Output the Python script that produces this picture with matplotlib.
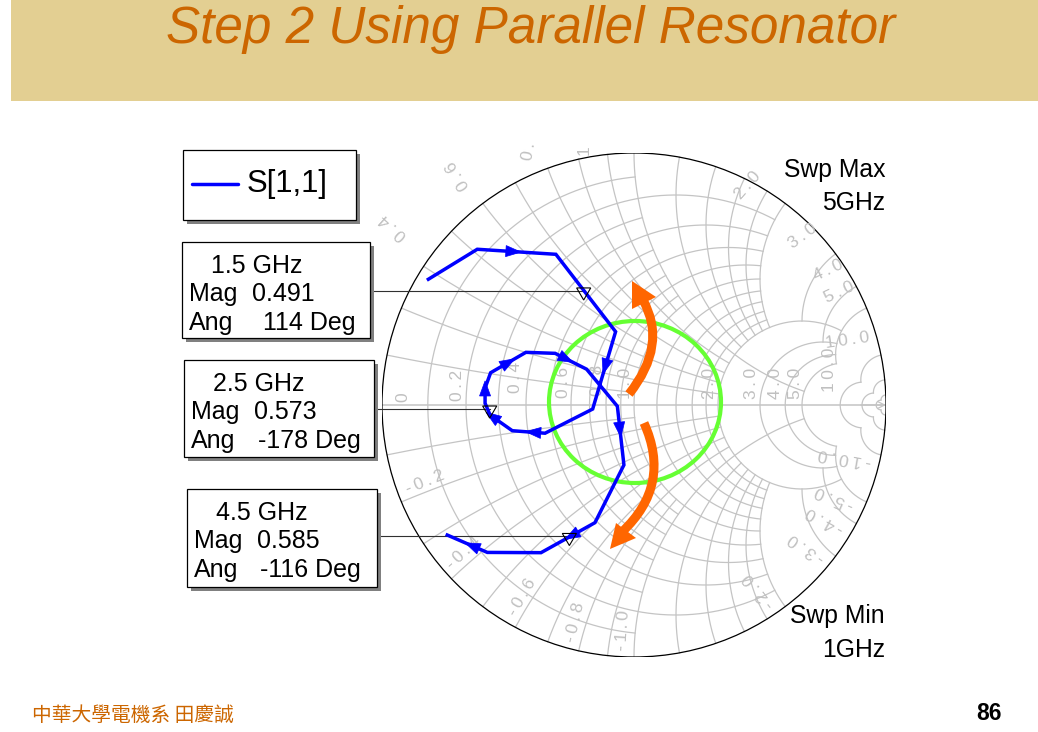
import numpy as np
import matplotlib
matplotlib.use("Agg")
import matplotlib.pyplot as plt
from matplotlib.patches import Rectangle, Polygon, Ellipse, PathPatch, Circle
from matplotlib.path import Path

TITLE = "Step 2 Using Parallel Resonator"
FOOTER = "中華大學電機系 田慶誠"
PAGE = "86"

# S[1,1] trace (reflection coefficient, re / im), 1 GHz to 5 GHz
gamma_re = [-0.816, -0.622, -0.310, -0.073, -0.164, -0.353, -0.483, -0.571, -0.591, -0.591,
            -0.569, -0.429, -0.313, -0.188, -0.066, -0.040, -0.155, -0.369, -0.582, -0.741]
gamma_im = [0.499, 0.618, 0.598, 0.291, -0.016, -0.112, -0.102, -0.040, 0.007, 0.067,
            0.128, 0.209, 0.205, 0.142, -0.005, -0.238, -0.467, -0.586, -0.585, -0.516]
arrow_seg = [1, 3, 5, 6, 8, 10, 12, 14, 16, 18]
arrow_frac = [0.46, 0.45, 0.36, 0.9, 0.98, 0.5, 0.35, 0.4, 0.43, 0.38]

# markers
marker_ghz = ["1.5 GHz", "2.5 GHz", "4.5 GHz"]
marker_mag = [0.491, 0.573, 0.585]
marker_ang = [114, -178, -116]

# Smith grid: resistance circles with reactance limit, reactance arcs with resistance limit
r_vals = [0.1, 0.2, 0.3, 0.4, 0.5, 0.6, 0.7, 0.8, 0.9, 1.0, 1.2, 1.4, 1.6, 1.8, 2, 3, 4, 5, 10, 20, 50]
r_xlim = [1, 2, 1, 2, 1, 2, 1, 2, 1, 2, 2, 2, 2, 2, 5, 5, 5, 5, 10, 20, 50]
x_vals = [0.1, 0.2, 0.3, 0.4, 0.5, 0.6, 0.7, 0.8, 0.9, 1.0, 1.2, 1.4, 1.6, 1.8, 2, 3, 4, 5, 10, 20, 50]
x_rlim = [1, 2, 1, 2, 1, 2, 1, 2, 1, 5, 2, 2, 2, 2, 2, 2, 3, 5, 10, 20, 50]

# grey axis labels: text, x px, y px, rotation
tick_text = ["0", "0.2", "0.4", "0.6", "0.8", "1.0", "2.0", "3.0", "4.0", "5.0", "10.0",
             "0.", "1", "0.6", "0.4", "2.0", "3.0", "4.0", "5.0", "10.0",
             "-0.2", "-0.4", "-0.6", "-0.8", "-1.0", "-2.0", "-3.0", "-4.0", "-5.0", "-10.0"]
tick_x = [403, 458, 516, 563, 597, 625, 710, 752, 775, 795, 830,
          529, 584, 458, 393, 748, 803, 828, 839, 847,
          425, 464, 522, 575, 623, 759, 807, 825, 835, 845]
tick_y = [397, 385, 377, 382, 380, 383, 383, 383, 383, 383, 370,
          151, 150, 175, 227, 185, 236, 270, 292, 340,
          482, 553, 597, 622, 630, 591, 548, 520, 498, 458]
tick_rot = [90, 90, 90, 90, 90, 90, 90, 90, 90, 90, 90,
            80, 90, 122, 138, 49, 37, 25, 25, 8,
            22, 43, 60, 77, 86, 128, 145, 151, 156, 170]

GRID = "#c4c4c4"
TICK = "#c0c0c0"
BLUE = "#0000ff"
ORANGE = "#ff6600"

fig = plt.figure(figsize=(10.38, 7.32), dpi=100)
page = fig.add_axes([0, 0, 1, 1])
page.set_xlim(0, 1038)
page.set_ylim(732, 0)
page.axis("off")

page.add_patch(Rectangle((11, 0), 1027, 101, fc="#e3cf92", ec="none"))
page.text(531, 30, TITLE, color="#cc6600", fontsize=36.9, style="italic",
          family="Liberation Sans", ha="center", va="center")
page.text(32, 715, FOOTER, color="#cc6600", fontsize=14.2,
          family=["Noto Sans CJK TC", "DejaVu Sans"], ha="left", va="center")
page.text(1002, 713, PAGE, color="black", fontsize=16.5, weight="bold",
          family="Liberation Sans", ha="right", va="center")

smith = fig.add_axes([382 / 1038, (732 - 657) / 732, 504 / 1038, 504 / 732])
smith.set_xlim(-1, 1)
smith.set_ylim(-1, 1)
smith.axis("off")
smith.patch.set_alpha(0)


def to_gamma(z):
    return (z - 1) / (z + 1)


for r, lim in zip(r_vals, r_xlim):
    t = np.linspace(-np.arctan(lim), np.arctan(lim), 300)
    g = to_gamma(r + 1j * np.tan(t))
    smith.plot(g.real, g.imag, color=GRID, lw=0.9, zorder=1)
for x, lim in zip(x_vals, x_rlim):
    t = np.linspace(0, np.arctan(lim), 200)
    for sign in (1, -1):
        g = to_gamma(np.tan(t) + 1j * sign * x)
        smith.plot(g.real, g.imag, color=GRID, lw=0.9, zorder=1)
smith.plot([-1, 1], [0, 0], color=GRID, lw=1.1, zorder=1)
smith.annotate("", xy=(1, 0), xytext=(0.9, 0),
               arrowprops=dict(arrowstyle="->", color=GRID, lw=0.9, shrinkA=0, shrinkB=0, mutation_scale=12))
smith.add_patch(Circle((0, 0), 1, fc="none", ec="black", lw=0.9, zorder=2))

for s, tx, ty, rot in zip(tick_text, tick_x, tick_y, tick_rot):
    page.text(tx, ty, "\u2009".join(s), color=TICK, fontsize=12.5, family="Liberation Sans", rotation=rot,
              rotation_mode="anchor", ha="center", va="center", zorder=3)

page.set_zorder(3)
smith.set_zorder(2)

# green circle and orange arrows (slide annotations)
page.add_patch(Ellipse((635, 402), 172, 162, fc="none", ec="#66ff33", lw=3, zorder=4))


def orange_arrow(pts, head):
    codes = [Path.MOVETO, Path.CURVE3, Path.CURVE3]
    page.add_patch(PathPatch(Path(pts, codes), fc="none", ec=ORANGE, lw=6.5,
                             capstyle="butt", zorder=5))
    page.add_patch(Polygon(head, fc=ORANGE, ec="none", zorder=5))


orange_arrow([(629, 394), (668, 345), (643, 300)], [(632, 281), (632, 309), (656, 297)])
orange_arrow([(644, 423), (672, 485), (622, 532)], [(610, 549), (616, 523), (636, 538)])

# trace
tr = fig.add_axes(smith.get_position())
tr.set_xlim(-1, 1)
tr.set_ylim(-1, 1)
tr.axis("off")
tr.patch.set_alpha(0)
tr.set_zorder(5)
gx = np.array(gamma_re)
gy = np.array(gamma_im)
tr.plot(gx, gy, color=BLUE, lw=2.5, solid_joinstyle="miter", zorder=6)
for s, f in zip(arrow_seg, arrow_frac):
    a = np.array([gx[s], gy[s]])
    b = np.array([gx[s + 1], gy[s + 1]])
    d = (b - a) / np.linalg.norm(b - a)
    n = np.array([-d[1], d[0]])
    p = a + (b - a) * f
    tr.add_patch(Polygon([p + d * 0.03, p - d * 0.03 + n * 0.022, p - d * 0.03 - n * 0.022],
                         fc=BLUE, ec=BLUE, lw=0.5, zorder=6))

# markers and leader lines
box_right = [372, 376, 379]
for mag, ang, br in zip(marker_mag, marker_ang, box_right):
    mx = mag * np.cos(np.radians(ang))
    my = mag * np.sin(np.radians(ang))
    tr.add_patch(Polygon([(mx, my - 0.032), (mx - 0.028, my + 0.016), (mx + 0.028, my + 0.016)],
                         fc="none", ec="black", lw=0.8, zorder=7))
    tr.plot([(br - 634) / 252, mx], [my + 0.004, my + 0.004], color="#303030", lw=0.8,
            zorder=5, clip_on=False)

# boxes
over = fig.add_axes([0, 0, 1, 1])
over.set_xlim(0, 1038)
over.set_ylim(732, 0)
over.axis("off")
over.patch.set_alpha(0)
over.set_zorder(6)


def box(x0, y0, x1, y1):
    over.add_patch(Rectangle((x0 + 4, y0 + 4), x1 - x0, y1 - y0, fc="#808080", ec="none"))
    over.add_patch(Rectangle((x0, y0), x1 - x0, y1 - y0, fc="white", ec="black", lw=0.9))


box(183, 150, 356, 220)
over.plot([192, 238], [184, 184], color=BLUE, lw=2.5, solid_capstyle="round")
over.text(247, 184, "S[1,1]", fontsize=22.3, family="Liberation Sans", va="center")

boxes = [(182, 242, 370, 338), (184, 360, 374, 457), (187, 489, 377, 587)]
ang_txt = ["114 Deg", "-178 Deg", "-116 Deg"]
ang_x = [263, 258, 260]
for (x0, y0, x1, y1), ghz, mag, at, ax_ in zip(boxes, marker_ghz, marker_mag, ang_txt, ang_x):
    box(x0, y0, x1, y1)
    tk = dict(fontsize=18, family="Liberation Sans", va="center")
    over.text(x0 + 29, y0 + 24, ghz, **tk)
    over.text(x0 + 7, y0 + 52, "Mag", **tk)
    over.text(x0 + 70, y0 + 52, f"{mag:.3f}", **tk)
    over.text(x0 + 7, y0 + 81, "Ang", **tk)
    over.text(ax_, y0 + 81, at, **tk)

for s, y in zip(["Swp Max", "5GHz", "Swp Min", "1GHz"], [170, 203, 616, 650]):
    over.text(885, y, s, fontsize=17.8, family="Liberation Sans", ha="right", va="center")

fig.savefig("out.png", dpi=100)
